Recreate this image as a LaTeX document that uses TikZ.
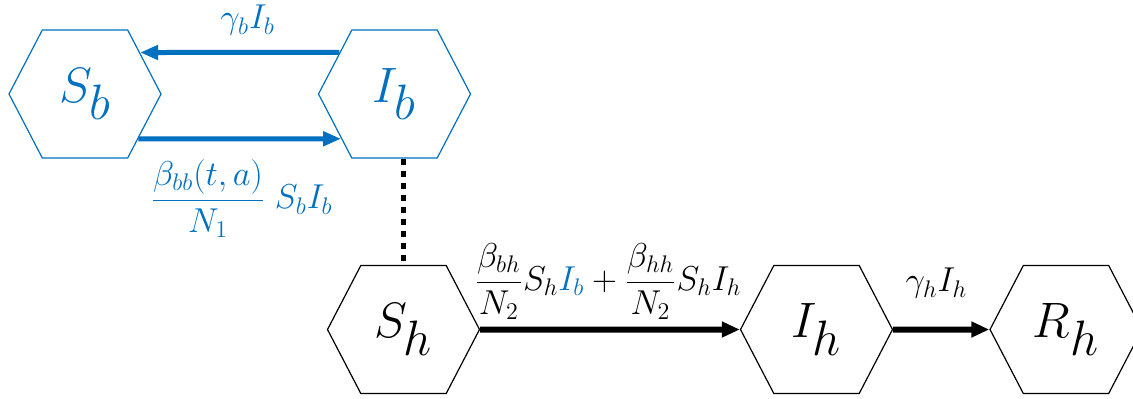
\documentclass[tikz,border=0pt]{standalone}
\definecolor{sirblue}{HTML}{0070C0}
\usepackage{tikz}
\usetikzlibrary{positioning, arrows.meta, shapes.symbols}

\begin{document}
\begin{tikzpicture}[x=0.5pt, y=-0.5pt,
    hex/.style={signal, signal to=east and west, signal pointer angle=125, draw, line width=0.6pt,
                minimum width=76pt, minimum height=64pt, inner sep=0pt, font=\fontsize{40}{46}\selectfont},
    bhex/.style={hex, draw=sirblue, text=sirblue},
    barr/.style={-{Triangle[length=9pt, width=7pt]}, sirblue, line width=2.5pt},
    karr/.style={-{Triangle[length=9pt, width=7.5pt]}, line width=3pt},
    dots/.style={line width=2.5pt, dash pattern=on 3pt off 3pt},
    lbl/.style={font=\fontsize{16.5}{19}\selectfont, inner sep=2pt}]
    \useasboundingbox (0,0) rectangle (1133,398);
    \clip (0,0) rectangle (1133,398);
    \node[bhex] (Sb) at (85,94) {$S_b$};
    \node[bhex] (Ib) at (394.5,94) {$I_b$};
    \node[hex] (Sh) at (403.5,329.5) {$S_h$};
    \node[hex] (Ih) at (816.5,329.5) {$I_h$};
    \node[hex] (Rh) at (1066,329.5) {$R_h$};
    \draw[barr] (Ib.143) -- node[lbl, text=sirblue, xshift=4pt, yshift=16pt]{$\gamma_bI_b$} (Sb.37);
    \draw[barr] (Sb.-40) -- node[lbl, text=sirblue, xshift=1pt, yshift=-30pt]{$\displaystyle\frac{\beta_{bb}(t,a)}{N_1}\;S_bI_b$} (Ib.-140);
    \draw[dots] (Sh.north |- Ib.south) -- (Sh.north);
    \draw[karr] (Sh) -- node[lbl, xshift=-1pt, yshift=24pt]{$\displaystyle\frac{\beta_{bh}}{N_2}S_h{\color{sirblue}I_b}+\frac{\beta_{hh}}{N_2}S_hI_h$} (Ih);
    \draw[karr] (Ih) -- node[lbl, xshift=-2.5pt, yshift=23pt]{$\gamma_hI_h$} (Rh);
\end{tikzpicture}
\end{document}
